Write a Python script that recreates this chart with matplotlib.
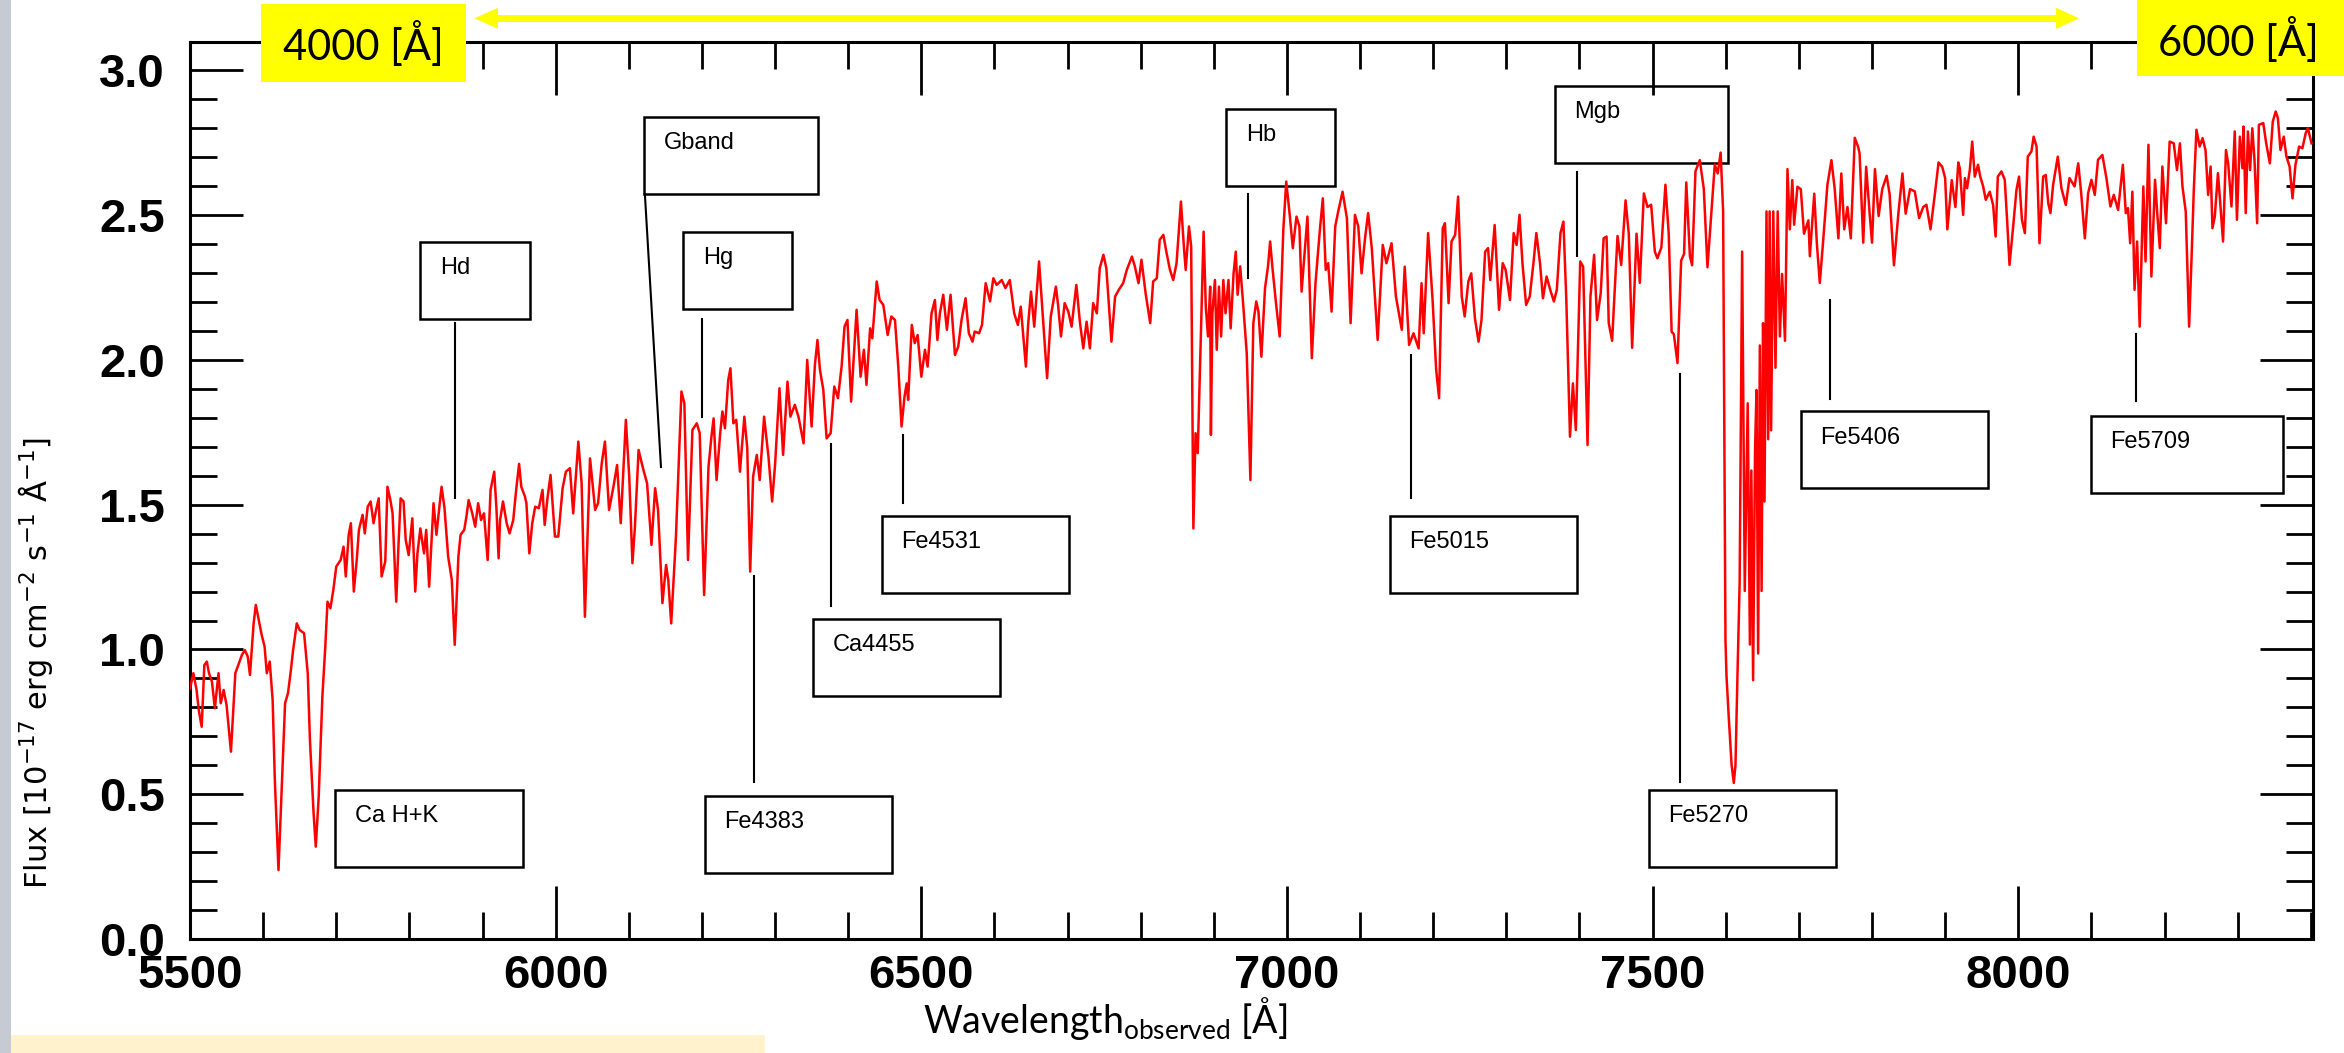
import matplotlib
matplotlib.use("Agg")
import numpy as np
import matplotlib.pyplot as plt
from matplotlib.patches import Rectangle, Polygon
from matplotlib.lines import Line2D
from matplotlib.ticker import MultipleLocator, FormatStrFormatter

# ---------------------------------------------------------------- data
wavelength = [
    5500, 5504.6, 5509, 5512, 5516, 5519.6, 5523, 5526, 5530, 5534, 5539, 5542, 5546, 5550,
    5556, 5562, 5566, 5571, 5575, 5579, 5582, 5587, 5590, 5594, 5598, 5602, 5605, 5609, 5613,
    5616, 5621, 5625, 5630, 5634, 5638, 5641, 5646, 5650, 5656, 5661, 5664, 5669, 5672, 5676,
    5681, 5685, 5688, 5692, 5696, 5700, 5706, 5710, 5713, 5717, 5720, 5724, 5728, 5731, 5736,
    5739, 5743, 5747, 5751, 5755, 5758, 5762, 5767, 5770, 5774, 5777, 5782, 5785, 5788, 5792,
    5795, 5799, 5804, 5808, 5811, 5815, 5820, 5823, 5827, 5833, 5837, 5841, 5844, 5848, 5853,
    5858, 5862, 5867, 5870, 5875, 5878, 5881, 5886, 5890, 5894, 5898, 5902, 5907, 5911, 5916,
    5919, 5922, 5924, 5928, 5933, 5937, 5942, 5946, 5950, 5953, 5958, 5960, 5964, 5968, 5972,
    5977,
    5982, 5985, 5988.5, 5993, 5999, 6003.6, 6009.5, 6014, 6019.5, 6024, 6031, 6035.5, 6040,
    6047, 6054, 6058, 6063, 6067.4, 6073, 6079, 6084, 6089, 6096, 6100.6, 6105, 6108.4, 6113.4,
    6120, 6125, 6131, 6136, 6140, 6146, 6151, 6154, 6158, 6164.5, 6172, 6176, 6181, 6187, 6193,
    6197, 6203, 6209, 6213, 6216, 6220, 6225, 6228, 6231.5, 6236, 6239, 6243, 6247, 6252, 6258,
    6262, 6266, 6270, 6275, 6279, 6285, 6291, 6296, 6300, 6306, 6311, 6317, 6321, 6327, 6332,
    6339, 6344, 6350, 6354.5, 6358, 6361.4, 6366, 6370.5, 6376, 6381, 6386, 6391, 6395, 6399,
    6404, 6411.5, 6417, 6421.5, 6425, 6430, 6433, 6439, 6443, 6448, 6454, 6459,
    6464, 6468.5, 6473, 6477, 6480, 6482, 6487, 6491, 6495, 6500, 6505, 6508.6, 6514, 6518.6,
    6522, 6525.4, 6530, 6535, 6540, 6546, 6550.5, 6555, 6560.5, 6565, 6570, 6573, 6579, 6583,
    6588, 6594, 6598.5, 6603, 6610, 6615, 6621, 6627, 6632, 6636, 6643, 6646, 6650, 6654.4,
    6661, 6666, 6672, 6677, 6684, 6687, 6691, 6696, 6701, 6705.5, 6712, 6717, 6721.5, 6726,
    6730.5, 6735, 6740, 6744, 6749, 6753, 6760, 6765, 6770, 6776, 6781, 6788, 6792, 6797, 6801,
    6807, 6813, 6817, 6822, 6826, 6831, 6835, 6840, 6844.5, 6849, 6855, 6859, 6861.5, 6866,
    6869, 6872, 6875, 6878, 6881, 6886, 6889, 6892, 6895, 6896, 6898, 6901.5, 6904, 6907, 6910,
    6913, 6916, 6920, 6923, 6927, 6930, 6932.5, 6936, 6940, 6945, 6950, 6954,
    6958, 6961, 6965, 6970, 6974, 6977, 6980, 6985, 6990, 6995, 6999, 7004, 7008, 7013, 7017,
    7020, 7028, 7034, 7039, 7045, 7049, 7053, 7056.4, 7061, 7066, 7070, 7076, 7082, 7087, 7093,
    7097.5, 7102, 7107, 7111, 7116, 7124, 7131, 7136, 7143, 7149, 7157, 7161, 7167, 7173, 7180,
    7184, 7187, 7193, 7199, 7204, 7208, 7213, 7216, 7221, 7225, 7230, 7234, 7239, 7243, 7248,
    7252, 7257, 7262, 7266, 7271, 7275, 7278, 7284, 7290, 7295, 7299, 7305, 7310, 7314, 7318,
    7322, 7327, 7332, 7337, 7341, 7346, 7350, 7355, 7360, 7365, 7369, 7374, 7378, 7382, 7387,
    7391, 7395, 7401, 7405, 7411, 7415, 7420, 7424, 7429, 7433, 7437,
    7440, 7444.6, 7452, 7457, 7463, 7467.4, 7472, 7478, 7482.5, 7488, 7493, 7498, 7503, 7506.6,
    7512, 7517.5, 7522, 7526, 7529, 7534, 7539, 7543, 7546, 7551, 7554, 7558.6, 7564.5, 7570,
    7575, 7580, 7585, 7589, 7593, 7596.4, 7599.6, 7601, 7604, 7608, 7611, 7613.3, 7616, 7619,
    7622.4, 7626, 7630, 7633, 7635, 7637.4, 7640, 7642, 7644.3, 7646.6, 7649, 7651, 7653,
    7655.7, 7658, 7660, 7662, 7665, 7668, 7671, 7674, 7677, 7681, 7684.4, 7687.6, 7691, 7693.5,
    7698, 7702.6, 7707, 7713, 7715, 7721, 7724.5, 7728.6, 7733, 7739, 7744.5, 7749, 7754, 7758,
    7762, 7766.4, 7771, 7776.4, 7781, 7783, 7788, 7792, 7797, 7800, 7804, 7809, 7814, 7820,
    7824, 7830, 7836, 7841.6, 7846, 7852, 7858.5, 7864.4, 7870, 7874.4, 7880, 7886, 7891, 7896,
    7900, 7903, 7909, 7914, 7918,
    7920, 7924.6, 7927, 7930, 7933.7, 7937, 7940.5, 7945, 7948, 7952, 7955.5, 7961, 7965.6,
    7969, 7972, 7977, 7981.5, 7984.7, 7988, 7993, 7997.5, 8001, 8005, 8009, 8013, 8018, 8021,
    8025, 8029, 8034, 8037.6, 8041, 8044, 8047.6, 8054, 8059, 8065, 8070, 8077, 8082, 8086,
    8091, 8095.5, 8100, 8104.6, 8109, 8115, 8120.5, 8126, 8130.6, 8136.5, 8143, 8147, 8150,
    8153, 8156, 8159, 8162.5, 8166, 8171, 8174, 8178, 8182, 8187, 8190, 8193.5, 8197, 8202,
    8207, 8212.6, 8217, 8221, 8224.5, 8229, 8233.6, 8237, 8240, 8243.6, 8248, 8252, 8256,
    8259.6, 8263, 8265.5, 8268.7, 8273, 8275.5, 8280, 8284, 8287, 8291.5, 8296, 8299, 8303,
    8306.5, 8308, 8311, 8314, 8317, 8320, 8323, 8326.6, 8329, 8335, 8339, 8344, 8348, 8352,
    8355, 8358.5, 8363, 8366.7, 8371, 8375, 8379, 8384, 8388.5, 8393, 8396, 8401,
]

flux = [
    0.866, 0.918, 0.860, 0.790, 0.733, 0.946, 0.958, 0.918, 0.889, 0.797, 0.918, 0.814, 0.860, 0.808,
    0.647, 0.918, 0.946, 0.981, 0.998, 0.975, 0.912, 1.090, 1.154, 1.102, 1.050, 1.010, 0.918, 0.958, 0.826,
    0.549, 0.238, 0.492, 0.814, 0.849, 0.929, 0.998, 1.090, 1.067, 1.056, 0.918, 0.687, 0.434, 0.319, 0.492,
    0.837, 1.010, 1.165, 1.142, 1.206, 1.286, 1.309, 1.355, 1.252, 1.396, 1.436, 1.200, 1.309, 1.413, 1.465,
    1.401, 1.493, 1.511, 1.436, 1.488, 1.522, 1.252, 1.304, 1.562, 1.516, 1.470, 1.165, 1.355, 1.522, 1.511,
    1.378, 1.326, 1.453, 1.200, 1.332, 1.418, 1.332, 1.413, 1.217, 1.505, 1.396, 1.493, 1.562, 1.488, 1.321,
    1.240, 1.016, 1.321, 1.396, 1.413, 1.459, 1.516, 1.470, 1.424, 1.505, 1.447, 1.470, 1.309, 1.551, 1.614,
    1.488, 1.315, 1.447, 1.511, 1.436, 1.401, 1.447, 1.551, 1.641, 1.562, 1.528, 1.505, 1.332, 1.436, 1.493,
    1.488,
    1.551, 1.430, 1.516, 1.603, 1.390, 1.390, 1.557, 1.614, 1.626, 1.470, 1.718, 1.574, 1.113,
    1.660, 1.482, 1.505, 1.643, 1.718, 1.482, 1.562, 1.637, 1.436, 1.793, 1.597, 1.298, 1.424, 1.689,
    1.620, 1.574, 1.361, 1.557, 1.482, 1.160, 1.292, 1.240, 1.090, 1.390, 1.891, 1.850, 1.309, 1.758, 1.781,
    1.747, 1.188, 1.631, 1.735, 1.798, 1.585, 1.747, 1.822, 1.764, 1.931, 1.971, 1.781, 1.793, 1.614, 1.804,
    1.695, 1.269, 1.597, 1.672, 1.585, 1.804, 1.666, 1.511, 1.637, 1.902, 1.672, 1.925, 1.804, 1.845, 1.804,
    1.712, 2.000, 1.770, 1.983, 2.069, 1.966, 1.896, 1.729, 1.747, 1.908, 1.868, 1.977, 2.115, 2.138,
    1.856, 2.173, 1.942, 2.035, 1.914, 2.109, 2.075, 2.271, 2.207, 2.190, 2.086, 2.150,
    2.138, 1.977, 1.770, 1.873, 1.919, 1.862, 2.121, 2.058, 2.086, 1.942, 2.035, 1.977, 2.161, 2.207,
    2.069, 2.161, 2.225, 2.104, 2.225, 2.017, 2.046, 2.138, 2.213, 2.092, 2.063, 2.098, 2.092, 2.121,
    2.265, 2.202, 2.282, 2.259, 2.276, 2.248, 2.276, 2.161, 2.121, 2.184, 1.977, 2.121, 2.236, 2.115,
    2.340, 2.155, 1.937, 2.150, 2.253, 2.190, 2.081, 2.196, 2.167, 2.115, 2.259, 2.127, 2.040, 2.132,
    2.040, 2.196, 2.161, 2.317, 2.363, 2.317, 2.063, 2.219, 2.242, 2.265, 2.311, 2.357, 2.323, 2.265, 2.346,
    2.225, 2.127, 2.271, 2.282, 2.415, 2.432, 2.374, 2.311, 2.276, 2.334, 2.547, 2.392, 2.311, 2.461,
    2.392, 1.418, 1.747, 1.678, 1.966, 2.443, 2.184, 2.081, 2.253, 1.741, 2.161, 2.276, 2.035, 2.253, 2.081,
    2.276, 2.161, 2.276, 2.109, 2.299, 2.374, 2.225, 2.323, 2.196, 2.023, 1.585, 2.127,
    2.202, 2.167, 2.011, 2.248, 2.322, 2.409, 2.322, 2.196, 2.081, 2.449, 2.616, 2.495, 2.386, 2.495, 2.461,
    2.236, 2.495, 2.006, 2.265, 2.449, 2.558, 2.311, 2.334, 2.167, 2.461, 2.512, 2.581, 2.489, 2.127, 2.501,
    2.461, 2.299, 2.426, 2.507, 2.386, 2.069, 2.397, 2.334, 2.403, 2.219, 2.104, 2.322, 2.052, 2.092, 2.040,
    2.265, 2.092, 2.438, 2.213, 1.966, 1.868, 2.455, 2.472, 2.196, 2.409, 2.432, 2.564, 2.219, 2.150, 2.271,
    2.299, 2.144, 2.063, 2.138, 2.374, 2.386, 2.276, 2.466, 2.173, 2.334, 2.311, 2.207, 2.438, 2.397, 2.501,
    2.334, 2.190, 2.219, 2.334, 2.438, 2.334, 2.213, 2.288, 2.242, 2.202, 2.242, 2.438, 2.478, 2.207, 1.735,
    1.919, 1.758, 2.340, 2.322, 1.706, 2.219, 2.363, 2.138, 2.230, 2.420, 2.426,
    2.127, 2.066, 2.428, 2.328, 2.551, 2.436, 2.042, 2.436, 2.266, 2.575, 2.528, 2.536, 2.374, 2.351,
    2.389, 2.605, 2.436, 2.097, 2.089, 1.989, 2.343, 2.366, 2.613, 2.358, 2.327, 2.652, 2.690, 2.590,
    2.320, 2.497, 2.675, 2.644, 2.716, 2.513, 1.032, 0.909, 0.770, 0.601, 0.539, 0.601, 0.909, 1.233,
    2.374, 1.202, 1.850, 1.017, 1.618, 0.894, 1.680, 1.896, 0.986, 2.050, 1.202, 2.127, 1.511,
    2.513, 1.726, 2.513, 1.757, 2.513, 1.973, 2.513, 2.081, 2.297, 2.066, 2.659, 2.451, 2.621, 2.467,
    2.598, 2.590, 2.436, 2.482, 2.358, 2.574, 2.405, 2.266, 2.405, 2.605, 2.690, 2.590, 2.420, 2.644,
    2.451, 2.528, 2.420, 2.767, 2.736, 2.713, 2.405, 2.667, 2.497, 2.405, 2.659, 2.497, 2.590, 2.636,
    2.574, 2.327, 2.505, 2.644, 2.505, 2.590, 2.582, 2.490, 2.528, 2.536, 2.451, 2.574, 2.682, 2.667,
    2.628, 2.451, 2.621, 2.528, 2.682,
    2.662, 2.501, 2.628, 2.593, 2.656, 2.754, 2.633, 2.674, 2.633, 2.599, 2.553, 2.581, 2.535,
    2.426, 2.633, 2.651, 2.622, 2.484, 2.328, 2.461, 2.587, 2.633, 2.484, 2.438, 2.702, 2.720, 2.771,
    2.737, 2.403, 2.633, 2.639, 2.541, 2.507, 2.604, 2.702, 2.593, 2.535, 2.628, 2.599, 2.679, 2.576,
    2.420, 2.576, 2.622, 2.570, 2.691, 2.708, 2.628, 2.530, 2.570, 2.518, 2.674, 2.507, 2.524,
    2.403, 2.581, 2.242, 2.409, 2.115, 2.599, 2.340, 2.743, 2.288, 2.622, 2.507, 2.386, 2.668, 2.472,
    2.754, 2.748, 2.656, 2.748, 2.599, 2.512, 2.115, 2.357, 2.587, 2.795, 2.737, 2.766, 2.725,
    2.570, 2.668, 2.455, 2.495, 2.645, 2.564, 2.409, 2.725, 2.679, 2.530, 2.789, 2.484, 2.771,
    2.662, 2.806, 2.507, 2.789, 2.656, 2.800, 2.691, 2.472, 2.812, 2.818, 2.748, 2.679, 2.823, 2.858,
    2.835, 2.725, 2.771, 2.702, 2.668, 2.558, 2.674, 2.737, 2.731, 2.783, 2.800, 2.748,
]

# index features: label and observed wavelength of the pointer (top end, bottom end)
feature_names = ["Ca H+K", "Hd", "Gband", "Hg", "Fe4383", "Ca4455", "Fe4531",
                 "Hb", "Fe5015", "Mgb", "Fe5270", "Fe5406", "Fe5709"]
pointer_wave_top = [None, 5862.3, 6122.0, 6200.0, 6271.8, 6376.4, 6475.3,
                    6947.0, 7169.0, 7396.8, 7536.8, 7742.3, 8161.6]
pointer_wave_bottom = [None, 5862.3, 6144.0, 6200.0, 6271.8, 6376.4, 6475.3,
                       6947.0, 7169.0, 7396.8, 7536.8, 7742.3, 8161.6]

x_ticks = [5500, 6000, 6500, 7000, 7500, 8000]
y_ticks = [0.0, 0.5, 1.0, 1.5, 2.0, 2.5, 3.0]
range_labels = ["4000 [Å]", "6000 [Å]"]

# ---------------------------------------------------------------- layout
W, H, DPI = 2344, 1053, 100
XLIM = (5500, 8403)
YLIM = (0.0, 3.098)

# pointer flux ends and label-box placement (left wavelength, bottom flux, width)
pointer_flux = {
    "Hd": (2.128, 1.523), "Gband": (2.573, 1.630), "Hg": (2.141, 1.803),
    "Fe4383": (1.254, 0.542), "Ca4455": (1.710, 1.150), "Fe4531": (1.741, 1.506),
    "Hb": (2.573, 2.284), "Fe5015": (2.017, 1.523), "Mgb": (2.648, 2.359),
    "Fe5270": (1.950, 0.542), "Fe5406": (2.208, 1.865), "Fe5709": (2.090, 1.858),
}
box_place = {
    "Ca H+K": (5698, 0.249, 257), "Hd": (5814.5, 2.142, 150), "Gband": (6120.7, 2.573, 238),
    "Hg": (6174, 2.176, 149), "Fe4383": (6204, 0.228, 256), "Ca4455": (6351.5, 0.839, 256),
    "Fe4531": (6446, 1.195, 256), "Hb": (6917, 2.602, 149), "Fe5015": (7140.7, 1.195, 256),
    "Mgb": (7366, 2.679, 237), "Fe5270": (7494.8, 0.249, 256), "Fe5406": (7702.6, 1.556, 256),
    "Fe5709": (8099, 1.541, 263),
}
BOX_H = 0.266

plt.rcParams["mathtext.default"] = "regular"

fig = plt.figure(figsize=(W / DPI, H / DPI), dpi=DPI)
fig.patch.set_facecolor("white")


def fx(px):
    return px / W


def fy(py):
    return 1.0 - py / H


ax = fig.add_axes([fx(190), fy(939), fx(2313) - fx(190), fy(42) - fy(939)])
ax.set_facecolor("none")

ax.plot(wavelength, flux, color="#ff0000", lw=1.8, zorder=3)

ax.set_xlim(*XLIM)
ax.set_ylim(*YLIM)
ax.set_xticks(x_ticks)
ax.set_yticks(y_ticks)
ax.xaxis.set_minor_locator(MultipleLocator(100))
ax.yaxis.set_minor_locator(MultipleLocator(0.1))
ax.yaxis.set_major_formatter(FormatStrFormatter("%.1f"))

for s in ax.spines.values():
    s.set_linewidth(2.2)
ax.tick_params(which="both", direction="in", top=True, right=True, width=2.0, color="black")
ax.tick_params(which="major", length=38)
ax.tick_params(which="minor", length=19.5)
ax.tick_params(axis="x", which="major", pad=11)
ax.tick_params(axis="y", which="major", pad=18)
for lab in ax.get_xticklabels() + ax.get_yticklabels():
    lab.set_fontfamily("Liberation Sans")
    lab.set_fontweight("bold")
    lab.set_fontsize(34)

# feature pointers and label boxes
for i, name in enumerate(feature_names):
    left, bottom, width = box_place[name]
    ax.add_patch(Rectangle((left, bottom), width, BOX_H, fill=False,
                           edgecolor="black", lw=1.8, zorder=2))
    ax.text(left + 27, bottom + BOX_H - 0.09, name, fontsize=17,
            family="Liberation Sans", ha="left", va="center", zorder=4)
    if pointer_wave_top[i] is not None:
        ftop, fbot = pointer_flux[name]
        ax.add_line(Line2D([pointer_wave_top[i], pointer_wave_bottom[i]], [ftop, fbot],
                           color="black", lw=1.5, zorder=2))

# axis titles
fig.text(fx(1105), fy(1033), "Wavelength$_{observed}$ [Å]", family="Lato",
         fontsize=27, ha="center", va="baseline")
fig.text(fx(36), fy(663), "Flux [10$^{-17}$ erg cm$^{-2}$ s$^{-1}$ Å$^{-1}$]",
         family="DejaVu Sans", fontsize=22, rotation=90, ha="center", va="center")

# rest-frame range banner
fig.patches.append(Rectangle((fx(261), fy(82)), fx(466) - fx(261), fy(4) - fy(82),
                             transform=fig.transFigure, facecolor="#ffff00", edgecolor="none"))
fig.patches.append(Rectangle((fx(2137), fy(76)), fx(2344) - fx(2137), fy(0) - fy(76),
                             transform=fig.transFigure, facecolor="#ffff00", edgecolor="none"))
fig.text(fx(363), fy(44), range_labels[0], family="Lato", fontsize=30, ha="center", va="center")
fig.text(fx(2238), fy(40), range_labels[1], family="Lato", fontsize=30, ha="center", va="center")

ay = 18.3
fig.add_artist(Line2D([fx(494), fx(2060)], [fy(ay), fy(ay)], color="#ffff00", lw=5,
                      transform=fig.transFigure, solid_capstyle="butt"))
fig.patches.append(Polygon([(fx(474.5), fy(ay)), (fx(498), fy(ay - 10.5)), (fx(498), fy(ay + 10.5))],
                           closed=True, transform=fig.transFigure, facecolor="#ffff00", edgecolor="none"))
fig.patches.append(Polygon([(fx(2079), fy(ay)), (fx(2056), fy(ay - 10.5)), (fx(2056), fy(ay + 10.5))],
                           closed=True, transform=fig.transFigure, facecolor="#ffff00", edgecolor="none"))

# slide edge strip and footer band
fig.patches.append(Rectangle((0, 0), fx(11), 1, transform=fig.transFigure,
                             facecolor="#c6cad2", edgecolor="none"))
fig.patches.append(Rectangle((fx(11), 0), fx(765) - fx(11), fy(1035), transform=fig.transFigure,
                             facecolor="#fff2cc", edgecolor="none"))

fig.savefig("out.png", dpi=DPI)
